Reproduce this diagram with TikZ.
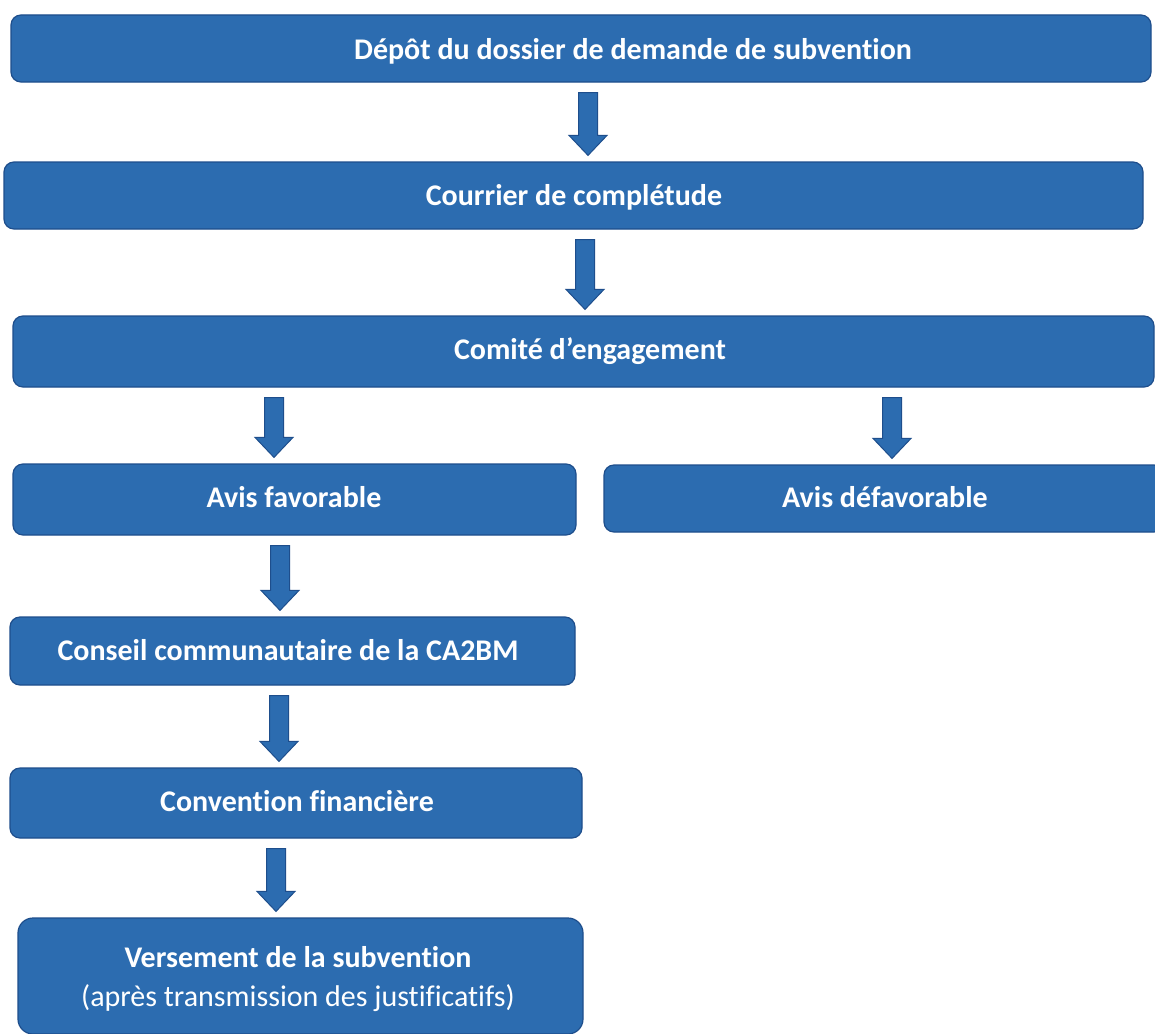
\documentclass[tikz,border=0pt]{standalone}
\usepackage{fontspec}
\setmainfont{Carlito}[Ligatures=NoCommon]
\usetikzlibrary{calc}
\definecolor{boxblue}{RGB}{44,108,176}
\definecolor{boxedge}{RGB}{30,78,140}
\tikzset{
  box/.style={draw=boxedge, line width=1.2pt, fill=boxblue, rounded corners=10pt, inner sep=0pt},
  lbl/.style={text=white, font=\fontsize{30}{39}\selectfont\bfseries, inner sep=0pt, align=center},
  arr/.style={draw=boxedge, line width=1pt, fill=boxblue, line join=miter}
}
\newcommand\blockarrow[3]{%
  \draw[arr] let \p1=(#2.south), \p2=(#3.north) in
    ({#1pt-9.5pt},{\y1-10pt}) -- ({#1pt+9.5pt},{\y1-10pt}) -- ({#1pt+9.5pt},{\y2+26pt})
    -- ({#1pt+19pt},{\y2+26pt}) -- ({#1pt},{\y2+6pt}) -- ({#1pt-19pt},{\y2+26pt})
    -- ({#1pt-9.5pt},{\y2+26pt}) -- cycle;}
\begin{document}
\begin{tikzpicture}[x=1pt,y=1pt]
\useasboundingbox (0,0) rectangle (1155,-1033);
\fill[white] (0,0) rectangle (1155,-1033);
% boxes
\node[box, minimum width=1140pt, minimum height=67pt] (b1) at (581,-48.5) {};
\node[box, minimum width=1139pt, minimum height=67pt] (b2) at (573.5,-195.5) {};
\node[box, minimum width=1141pt, minimum height=71pt] (b3) at (583.5,-351.5) {};
\node[box, minimum width=563pt, minimum height=71pt] (b4) at (294.5,-499.5) {};
\node[box, minimum width=560pt, minimum height=67pt] (b5) at (884,-498.5) {};
\node[box, minimum width=565pt, minimum height=68pt] (b6) at (292.5,-651) {};
\node[box, minimum width=572pt, minimum height=70pt] (b7) at (296,-803) {};
\node[box, rounded corners=15pt, minimum width=565pt, minimum height=116pt] (b8) at (300.5,-976) {};
% texts
\node[lbl] (t1) at (633,-51) {Dépôt du dossier de demande de subvention};
\node[lbl] (t2) at (574,-197) {Courrier de complétude};
\node[lbl] (t3) at (590,-351) {Comité d’engagement};
\node[lbl] (t4) at (294,-497) {Avis favorable};
\node[lbl] (t5) at (885,-497) {Avis défavorable};
\node[lbl] (t6) at (288,-650) {Conseil communautaire de la CA2BM};
\node[lbl] (t7) at (297,-801) {Convention financière};
\node[lbl] (t8) at (298,-979) {Versement de la subvention\\{\mdseries (après transmission des justificatifs)}};
% arrows
\blockarrow{588}{b1}{b2}
\blockarrow{585}{b2}{b3}
\blockarrow{274}{b3}{b4}
\blockarrow{892}{b3}{b5}
\blockarrow{280}{b4}{b6}
\blockarrow{279}{b6}{b7}
\blockarrow{276}{b7}{b8}
\end{tikzpicture}
\end{document}
